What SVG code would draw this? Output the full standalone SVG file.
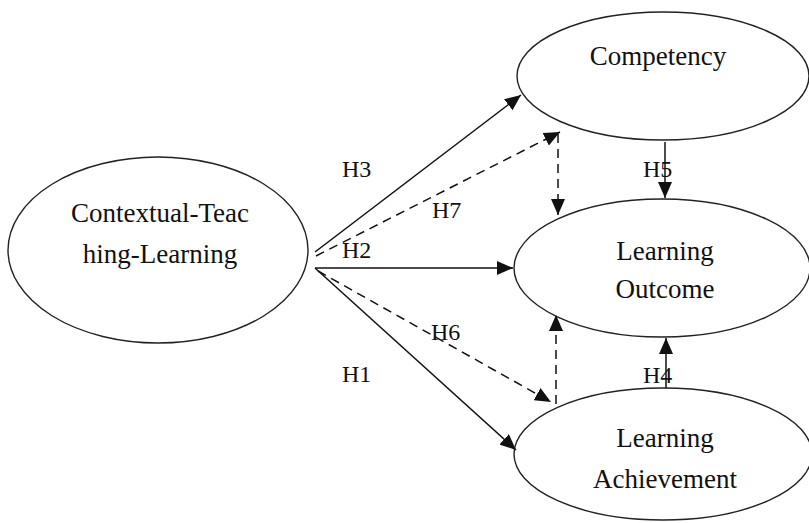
<svg xmlns="http://www.w3.org/2000/svg" width="809" height="523" viewBox="0 0 809 523">
<style>
.node{fill:#fff;stroke:#222;stroke-width:1.4}
.t{font-family:"Liberation Serif","Times New Roman",serif;font-size:27px;fill:#111;text-anchor:middle}
.lbl{font-family:"Liberation Serif","Times New Roman",serif;font-size:24px;fill:#111}
.c{fill:none;stroke:#111;stroke-width:1.5}
.d{stroke-dasharray:9,6}
</style>
<defs>
<marker id="ah" markerUnits="userSpaceOnUse" markerWidth="16" markerHeight="14" viewBox="0 0 16 14" refX="16" refY="7" orient="auto">
<path d="M0,0 L16,7 L0,14 Z" fill="#111"/>
</marker>
</defs>
<rect width="809" height="523" fill="#fff"/>
<g id="ctl">
<ellipse class="node" cx="158" cy="250" rx="150" ry="93"/>
<text class="t" x="160" y="222">Contextual-Teac</text>
<text class="t" x="160" y="263">hing-Learning</text>
</g>
<g id="competency">
<ellipse class="node" cx="663" cy="76" rx="146" ry="64"/>
<text class="t" x="658" y="65">Competency</text>
</g>
<g id="outcome">
<ellipse class="node" cx="662" cy="268" rx="148" ry="69"/>
<text class="t" x="665" y="260">Learning</text>
<text class="t" x="665" y="298">Outcome</text>
</g>
<g id="achievement">
<ellipse class="node" cx="663" cy="454" rx="149" ry="66"/>
<text class="t" x="665" y="447">Learning</text>
<text class="t" x="665" y="488">Achievement</text>
</g>
<g id="connectors">
<line class="c" x1="315" y1="252" x2="521" y2="95" marker-end="url(#ah)"/>
<line class="c d" x1="316" y1="256" x2="560" y2="132" marker-end="url(#ah)"/>
<line class="c d" x1="558" y1="134" x2="558" y2="215" marker-end="url(#ah)"/>
<line class="c" x1="315" y1="268" x2="513" y2="268" marker-end="url(#ah)"/>
<line class="c" x1="315" y1="268" x2="516" y2="450" marker-end="url(#ah)"/>
<line class="c d" x1="318" y1="271" x2="551" y2="402" marker-end="url(#ah)"/>
<line class="c d" x1="556" y1="404" x2="556" y2="315" marker-end="url(#ah)"/>
<line class="c" x1="665" y1="142" x2="665" y2="198" marker-end="url(#ah)"/>
<line class="c" x1="666" y1="388" x2="666" y2="338" marker-end="url(#ah)"/>
</g>
<g id="labels">
<text class="lbl" x="342" y="177">H3</text>
<text class="lbl" x="432" y="218">H7</text>
<text class="lbl" x="342" y="258">H2</text>
<text class="lbl" x="431" y="340">H6</text>
<text class="lbl" x="342" y="382">H1</text>
<text class="lbl" x="643" y="177">H5</text>
<text class="lbl" x="643" y="383">H4</text>
</g>
</svg>
